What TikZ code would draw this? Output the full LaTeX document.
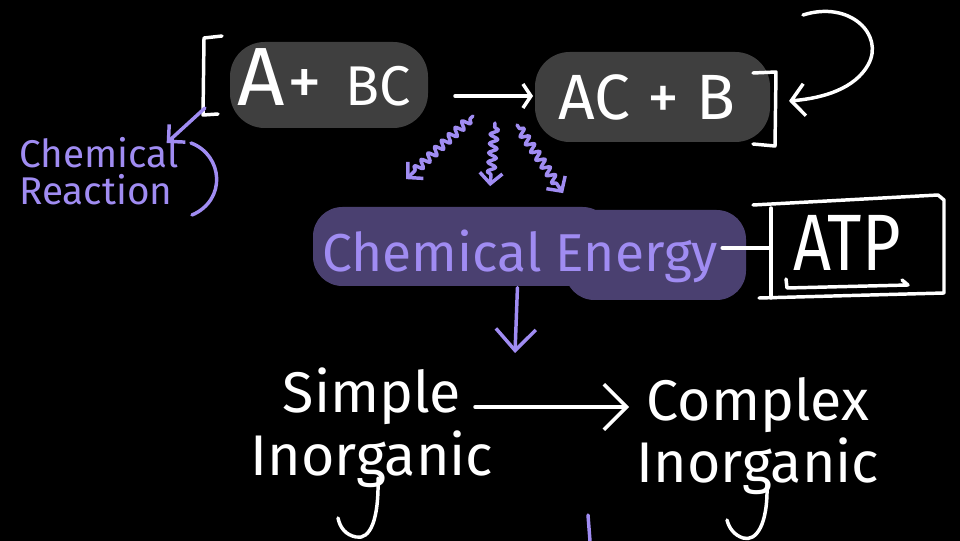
\documentclass[tikz,border=0pt]{standalone}
\usepackage{fontspec}
\usepackage{graphicx}
\setmainfont{Fira Sans}
\usetikzlibrary{arrows.meta,decorations.pathmorphing}
\definecolor{ink}{HTML}{A08CF2}
\definecolor{smudge}{HTML}{3F3F3F}
\definecolor{violetsmudge}{HTML}{4A4070}
\newcommand{\fsz}[2]{\fontsize{#1}{#2}\selectfont}
\begin{document}
\begin{tikzpicture}[x=0.75pt,y=-0.75pt,
  chalk/.style={draw=white,line width=2.6pt,line cap=round,line join=round},
  pen/.style={draw=ink,line width=2.6pt,line cap=round,line join=round},
  barb/.style n args={2}{-{Straight Barb[length=#1,width=#2]}},
  wavy/.style={decorate,decoration={snake,amplitude=3pt,segment length=7pt,pre length=3pt,post length=8pt}},
  word/.style={inner sep=0pt,text=white},
  violetword/.style={inner sep=0pt,text=ink}]
\useasboundingbox (0,0) rectangle (960,541);
\fill[black] (0,0) rectangle (960,541);

% highlighter smudges behind the equation and the energy label
\fill[smudge,rounded corners=26pt] (230,42) rectangle (428,128);
\fill[smudge,rounded corners=26pt] (535,52) rectangle (770,142);
\fill[violetsmudge,rounded corners=22pt] (313,207) rectangle (612,286);
\fill[violetsmudge,rounded corners=22pt] (565,210) rectangle (746,300);

% the reaction
\node[word,anchor=base west] (reactants) at (237,106)
  {\fsz{62}{62}A\hspace{2pt}\fsz{52}{52}+\hspace{18pt}\fsz{42}{42}BC};
\node[word,anchor=base west] (products) at (558,120) {\fsz{48}{48}AC + B};
\coordinate (rxnfrom) at (455,96);
\coordinate (rxnto) at (533,96);
\draw[chalk,barb={6pt}{18pt}] (rxnfrom) -- (rxnto);

% brackets round the reaction and the return loop
\draw[chalk] (222,36) -- (204,38) -- (203,115) -- (218,114);
\coordinate (lbrfoot) at (205,108);
\draw[chalk] (753,73) -- (776,72) -- (775,146) -- (753,144);
\coordinate (rbr) at (789,101);
\coordinate (loop) at (803,15);
\draw[chalk,barb={10pt}{24pt}] (loop) .. controls (850,0) and (885,35) .. (868,65) .. controls (855,88) and (825,98) .. (rbr);

% side note
\node[violetword,anchor=north west,align=left,font=\fsz{29}{28}] (reaction) at (19,137) {Chemical\\Reaction};
\draw[pen,barb={9pt}{18pt}] (lbrfoot) -- ([shift={(-12,6)}]reaction.north east);
\draw[pen] (191,143) .. controls (223,155) and (227,200) .. (192,215);

% energy released
\node[violetword,anchor=base west,font=\fsz{40}{40}] (energy) at (322,272) {Chemical Energy};
\coordinate (w1) at (473,116);
\coordinate (w2) at (495,123);
\coordinate (w3) at (517,125);
\draw[pen,wavy,barb={8pt}{17pt}] (w1) -- ([shift={(-114,-51)}]energy.north);
\draw[pen,wavy,barb={8pt}{17pt}] (w2) -- ([shift={(-30,-44)}]energy.north);
\draw[pen,wavy,barb={8pt}{17pt}] (w3) -- ([shift={(43,-37)}]energy.north);

% ATP box
\node[word,font=\fsz{60}{60}] (atp) at (847,243) {\scalebox{0.83}[1]{ATP}};
\draw[chalk] (753,205) -- (938,195) -- (944,200) -- (944,293) -- (759,298);
\draw[chalk] (771,208) -- (771,298);
\draw[chalk] (786,279) -- (787,288) -- (908,285) -- (902,280);
\coordinate (atpleft) at (771,248);
\draw[chalk,shorten <=3pt] (atpleft -| energy.east) -- (atpleft);

% energy drives the synthesis
\coordinate (drive) at (515,353);
\draw[pen,barb={16pt}{30pt}] ([xshift=-2pt,yshift=-3pt]energy.south) -- (drive);

\node[word,anchor=north,align=center,font=\fsz{43}{47}] (simple) at (372,368) {Simple\\Inorganic};
\node[word,anchor=north,align=center,font=\fsz{43}{47}] (complex) at (758,377) {Complex\\Inorganic};
\coordinate (s2cfrom) at (475,407);
\coordinate (s2cto) at (629,407);
\draw[chalk,barb={17pt}{34pt}] (s2cfrom) -- (s2cto);

% long tails of the g's
\draw[chalk] (378,478) .. controls (379,520) and (370,540) .. (356,537) .. controls (346,535) and (340,528) .. (338,518);
\draw[chalk] (767,485) .. controls (768,525) and (756,542) .. (743,538) .. controls (734,535) and (729,528) .. (727,520);
\draw[pen] (588,515) -- (590,541);
\end{tikzpicture}
\end{document}
